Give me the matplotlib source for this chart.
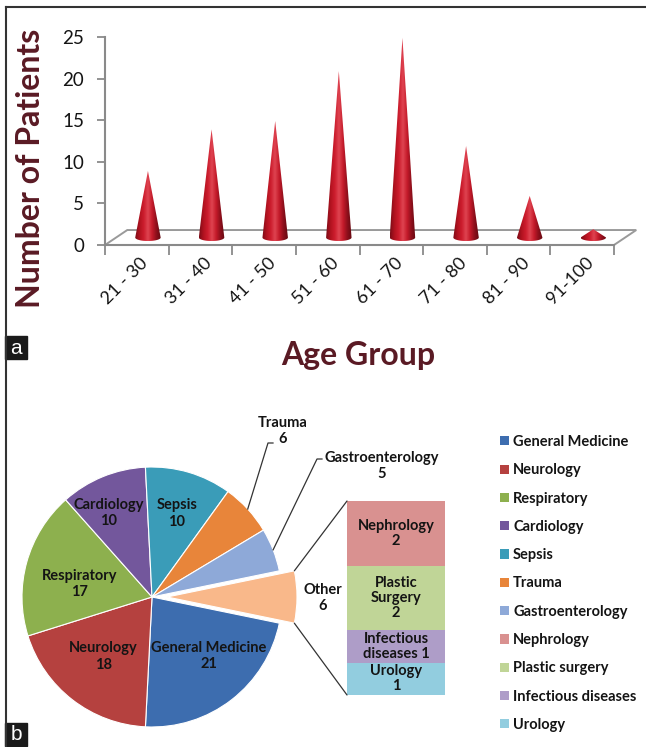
import numpy as np
import matplotlib
matplotlib.use("Agg")
import matplotlib.pyplot as plt
from matplotlib.patches import Polygon, Rectangle, Patch, ConnectionPatch
from matplotlib.colors import LinearSegmentedColormap
from matplotlib.lines import Line2D

plt.rcParams['font.family'] = ['Lato', 'DejaVu Sans']

W, H = 646, 747  # output size in pixels (dpi 100)

# ── Data ─────────────────────────────────────────────────────────────────────
age_groups = ["21 - 30", "31 - 40", "41 - 50", "51 - 60",
              "61 - 70", "71 - 80", "81 - 90", "91-100"]
patients = [8, 13, 14, 20, 24, 11, 5, 1]

departments = ["General Medicine", "Neurology", "Respiratory", "Cardiology",
               "Sepsis", "Trauma", "Gastroenterology"]
dept_counts = [21, 18, 17, 10, 10, 6, 5]
dept_colors = ["#3D6DAF", "#B5413F", "#8DB04E", "#73579C",
               "#3A9CB8", "#E8853A", "#8EA9D8"]
other_color = "#F9B88A"

other_names = ["Nephrology", "Plastic surgery", "Infectious diseases", "Urology"]
other_tags = ["Nephrology\n{}", "Plastic\nSurgery\n{}", "Infectious\ndiseases {}", "Urology\n{}"]
other_counts = [2, 2, 1, 1]
other_colors = ["#D99190", "#C0D597", "#AE9DC8", "#92CDDF"]

MAROON = "#5a1a24"
TXT = "#141414"
FS = 10.5  # panel b text size


def fx(px):
    return px / W


def fy(py):
    return 1 - py / H


fig = plt.figure(figsize=(W / 100, H / 100), dpi=100)

# ── Panel a: cones ───────────────────────────────────────────────────────────
ax = fig.add_axes([fx(105), fy(245), 509 / W, 208 / H])
ax.set_facecolor("none")
n = len(patients)
DX, DY = 0.35, 1.8          # 3D floor depth, data units
HW, EH = 0.2, 0.42          # cone half width, base ellipse half height

floor = Polygon([(0, 0), (n, 0), (n + DX, DY), (DX, DY)], closed=True,
                fill=False, ec="#9a9a9a", lw=1.4, clip_on=False, zorder=1)
ax.add_patch(floor)

cone_cmap = LinearSegmentedColormap.from_list(
    "cone", ["#7a0c17", "#b0121f", "#cc1d2d", "#df4451", "#c41a2a", "#8c0f1b", "#640a12"])
grad = np.linspace(0, 1, 128).reshape(1, -1)
t = np.linspace(0, np.pi, 40)
for i, v in enumerate(patients):
    xc = i + 0.5 + DX / 2
    base = DY / 2
    verts = [(xc, base + v)] + list(zip(xc + HW * np.cos(t), base - EH * np.sin(t)))
    shape = Polygon(verts, closed=True, fc="none", ec="none", transform=ax.transData)
    ax.add_patch(shape)
    im = ax.imshow(grad, extent=(xc - HW, xc + HW, base - EH, base + v),
                   cmap=cone_cmap, aspect="auto", interpolation="bilinear", zorder=3)
    im.set_clip_path(shape)

ax.set_xlim(0, n)
ax.set_ylim(0, 25)
for s in ["top", "right"]:
    ax.spines[s].set_visible(False)
for s in ["left", "bottom"]:
    ax.spines[s].set_color("#8a8a8a")
    ax.spines[s].set_linewidth(1.5)

ax.set_yticks(range(0, 26, 5))
ax.tick_params(axis="y", length=6, width=1.3, color="#8a8a8a", pad=9,
               labelsize=13.5, labelcolor=TXT)
ax.set_xticks(range(n + 1))
ax.set_xticklabels([])
ax.tick_params(axis="x", which="major", length=7, width=1.3, color="#8a8a8a")
ax.set_xticks(np.arange(n) + 0.55, minor=True)
ax.set_xticklabels(age_groups, minor=True, rotation=45, ha="right",
                   rotation_mode="anchor", fontsize=13, color=TXT)
ax.tick_params(axis="x", which="minor", length=0, pad=7)

fig.text(fx(31), fy(168), "Number of Patients", rotation=90, ha="center", va="center",
         fontsize=23, fontweight="bold", color=MAROON)
fig.text(fx(358), fy(356), "Age Group", ha="center", va="center",
         fontsize=23, fontweight="bold", color=MAROON)

# ── Panel b: pie of pie ──────────────────────────────────────────────────────
axb = fig.add_axes([0, 0, 1, 367 / H])
axb.set_axis_off()
cx, cy, R = 152, 747 - 597, 130

other_total = sum(other_counts)
pie_vals = dept_counts + [other_total]
pie_cols = dept_colors + [other_color]
half = other_total / sum(pie_vals) * 360 / 2
wedges, _ = axb.pie(pie_vals, colors=pie_cols, startangle=-half, counterclock=False,
                    center=(cx, cy), radius=R, explode=[0] * len(dept_counts) + [15],
                    wedgeprops=dict(edgecolor="white", linewidth=0.8), frame=True)
axb.set_xlim(0, W)
axb.set_ylim(0, 367)
axb.set_axis_off()

# inside labels: radius fraction and small angle nudge (degrees)
inner_pos = [(0.63, 6), (0.59, -1.5), (0.565, 5), (0.73, 5), (0.67, 0)]
for w, name, cnt, (rf, da) in zip(wedges[:5], departments, dept_counts, inner_pos):
    a = np.deg2rad((w.theta1 + w.theta2) / 2 + da)
    axb.text(cx + rf * R * np.cos(a), cy + rf * R * np.sin(a), f"{name}\n{cnt}",
             ha="center", va="center", fontsize=FS, fontweight="bold", color=TXT)

# outside labels with leader lines
outside = [(5, (283, 431), (268, 443)), (6, (382, 466), (317, 459))]
for k, (lx, ly), (ex, ey) in outside:
    w = wedges[k]
    a = np.deg2rad((w.theta1 + w.theta2) / 2)
    px, py = cx + R * np.cos(a), cy + R * np.sin(a)
    axb.plot([px, ex, ex + 5], [py, 747 - ey, 747 - ey], color="#333333", lw=0.9)
    axb.text(lx, 747 - ly, f"{departments[k]}\n{dept_counts[k]}", ha="center",
             va="center", fontsize=FS, fontweight="bold", color=TXT)

axb.text(323, 747 - 598, f"Other\n{other_total}", ha="center", va="center",
         fontsize=FS, fontweight="bold", color=TXT)

# stacked bar of the "Other" slice
axs = fig.add_axes([fx(347), fy(695), 98 / W, 194 / H])
bottoms = other_total - np.cumsum(other_counts)
axs.bar([0] * len(other_counts), other_counts, width=1, bottom=bottoms,
        color=other_colors, edgecolor="none")
for b, c, tag in zip(bottoms, other_counts, other_tags):
    axs.text(0, b + c / 2, tag.format(c), ha="center", va="center",
             fontsize=FS, fontweight="bold", color=TXT, linespacing=1.1)
axs.set_xlim(-0.5, 0.5)
axs.set_ylim(0, other_total)
axs.set_axis_off()

# connectors between exploded slice and bar
ow = wedges[-1]
for ang, yb in [(ow.theta2, 1), (ow.theta1, 0)]:
    a = np.deg2rad(ang)
    pa = (ow.center[0] + ow.r * np.cos(a), ow.center[1] + ow.r * np.sin(a))
    con = ConnectionPatch(xyA=pa, coordsA=axb.transData, xyB=(0, yb),
                          coordsB=axs.transAxes, color="#333333", lw=0.9)
    fig.add_artist(con)

# legend
handles = [Patch(facecolor=c) for c in dept_colors + other_colors]
fig.legend(handles, departments + other_names, loc="upper left",
           bbox_to_anchor=(fx(500), fy(435)), frameon=False,
           prop={"weight": "bold", "size": FS}, handlelength=0.6, handleheight=0.6,
           handletextpad=0.3, labelspacing=0.98, borderpad=0, borderaxespad=0,
           labelcolor=TXT)

# ── Frame and panel tags ─────────────────────────────────────────────────────
fig.add_artist(Line2D([fx(6), fx(6)], [0, fy(7)], color="#333333", lw=1.5))
fig.add_artist(Line2D([fx(6), fx(645)], [fy(7), fy(7)], color="#333333", lw=1.5))
for tag, top in [("a", 336), ("b", 723)]:
    fig.add_artist(Rectangle((fx(5), fy(top + 23)), 22 / W, 23 / H,
                             transform=fig.transFigure, color="#1a1a1a"))
    fig.text(fx(16), fy(top + 12), tag, ha="center", va="center", color="white",
             fontsize=15, family="Liberation Sans")

fig.savefig("out.png", dpi=100)
